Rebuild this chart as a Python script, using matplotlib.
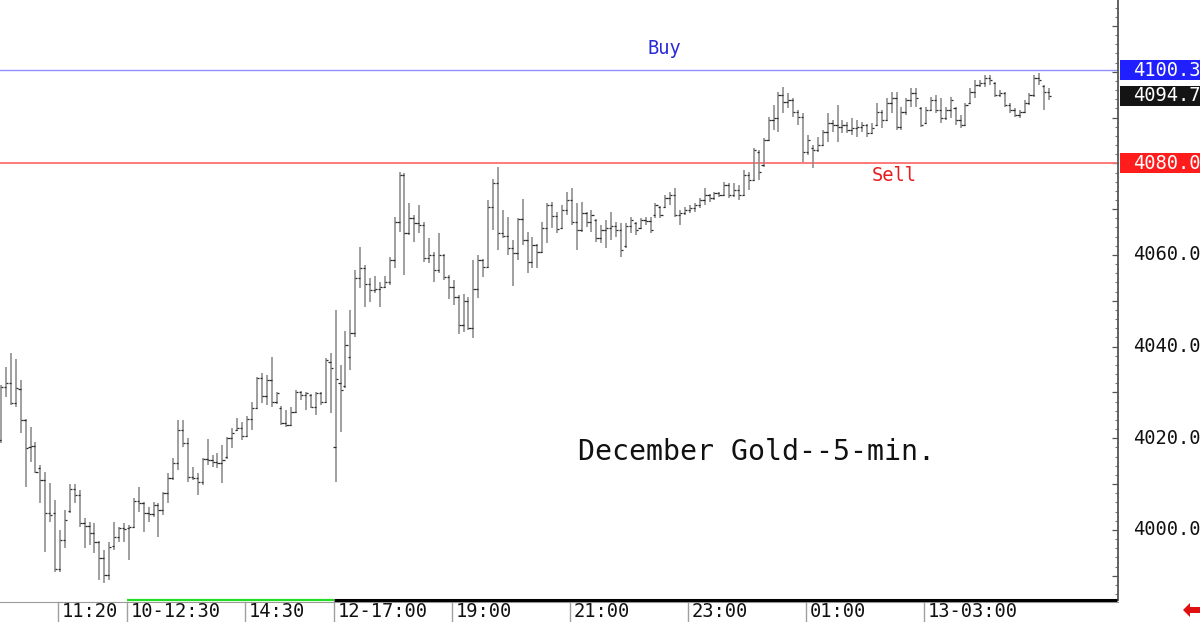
import matplotlib
matplotlib.use("Agg")
import matplotlib.pyplot as plt
from matplotlib.collections import LineCollection
from matplotlib.patches import Rectangle, Polygon
from matplotlib.ticker import MultipleLocator, NullFormatter

# ---------------- data (December Gold, 5-min bars) ----------------
opens = [
    4019.6, 4031.2, 4032.1, 4027.7, 4030.8, 4024.0, 4018.1, 4018.3, 4013.5, 4010.9,
    4003.7, 4003.7, 3991.5, 3997.8, 4004.1, 4008.9, 4007.6, 4001.5, 4000.9, 3999.4,
    3997.4, 3993.9, 3990.2, 3996.5, 3998.5, 4000.4, 4000.4, 4000.7, 4006.3, 4005.9,
    4003.7, 4003.5, 4005.5, 4004.4, 4008.1, 4011.4, 4014.6, 4021.8, 4019.0, 4011.6,
    4011.4, 4010.5, 4015.5, 4015.3, 4014.8, 4014.6, 4016.0, 4020.1, 4021.8, 4022.3,
    4020.5, 4024.2, 4026.6, 4033.2, 4029.2, 4032.7, 4027.9, 4026.5, 4023.4, 4022.9,
    4025.7, 4030.1, 4029.5, 4029.5, 4026.8, 4029.9, 4027.9, 4036.7, 4018.1, 4032.0,
    4031.5, 4037.7, 4043.0, 4055.0, 4057.2, 4053.7, 4052.4, 4052.6, 4053.0, 4054.1,
    4058.9, 4067.2, 4077.5, 4064.8, 4068.1, 4067.0, 4066.6, 4059.4, 4060.0, 4056.7,
    4060.0, 4055.2, 4053.0, 4050.8, 4044.7, 4050.0, 4044.1, 4052.6, 4058.9, 4057.4,
    4070.5, 4075.7, 4064.8, 4064.2, 4061.5, 4060.4, 4067.9, 4063.3, 4058.5, 4062.2,
    4060.6, 4065.9, 4070.9, 4068.5, 4065.9, 4069.8, 4072.0, 4067.2, 4065.5, 4069.2,
    4067.2, 4067.6, 4063.7, 4065.5, 4065.9, 4066.3, 4065.5, 4062.0, 4066.3, 4067.0,
    4065.9, 4067.6, 4067.4, 4068.7, 4070.5, 4070.5, 4072.4, 4073.1, 4068.7, 4069.2,
    4069.8, 4070.3, 4070.9, 4072.0, 4073.1, 4072.4, 4073.5, 4073.1, 4075.3, 4073.1,
    4074.2, 4073.1, 4077.5, 4076.4, 4082.5, 4079.6, 4085.1, 4089.5, 4089.9, 4094.9,
    4093.4, 4093.8, 4091.2, 4090.1, 4082.5, 4083.4, 4082.9, 4084.0, 4086.8, 4088.8,
    4088.4, 4087.9, 4088.4, 4087.3, 4087.7, 4087.9, 4088.4, 4086.6, 4088.4, 4091.2,
    4089.5, 4093.2, 4094.3, 4087.9, 4091.2, 4093.8, 4095.3, 4092.1, 4088.8, 4091.6,
    4093.8, 4091.6, 4089.9, 4091.6, 4092.1, 4089.5, 4088.4, 4093.2, 4095.6, 4097.1,
    4097.5, 4098.6, 4097.5, 4094.9, 4095.3, 4092.7, 4091.6, 4090.6, 4091.2, 4093.2,
    4094.9, 4098.6, 4096.9, 4095.6,
]
highs = [
    4031.6, 4035.6, 4038.6, 4037.3, 4032.7, 4024.2, 4022.5, 4019.2, 4014.2, 4012.7,
    4010.3, 4006.5, 4000.0, 4004.4, 4010.0, 4010.0, 4008.7, 4002.6, 4001.7, 4001.5,
    3997.6, 3995.6, 3997.4, 4001.7, 4000.7, 4001.5, 4001.1, 4007.0, 4009.4, 4006.1,
    4005.0, 4006.1, 4005.9, 4008.3, 4012.4, 4015.7, 4024.0, 4024.0, 4020.1, 4013.8,
    4012.4, 4015.7, 4019.9, 4016.4, 4016.8, 4018.6, 4020.3, 4022.3, 4024.4, 4023.6,
    4024.9, 4027.9, 4033.4, 4034.3, 4033.8, 4037.7, 4030.1, 4027.0, 4026.2, 4026.8,
    4030.5, 4030.3, 4030.1, 4029.7, 4030.1, 4030.1, 4037.5, 4038.6, 4048.0, 4036.0,
    4043.4, 4048.0, 4056.7, 4061.8, 4057.8, 4055.0, 4055.4, 4054.1, 4055.4, 4059.6,
    4068.3, 4078.1, 4077.9, 4071.4, 4068.7, 4070.9, 4067.2, 4063.7, 4060.7, 4064.8,
    4060.2, 4055.6, 4054.6, 4051.3, 4051.5, 4050.8, 4058.9, 4060.0, 4059.1, 4072.0,
    4076.6, 4079.2, 4069.8, 4068.3, 4063.3, 4068.1, 4072.2, 4065.0, 4064.0, 4062.4,
    4067.2, 4071.4, 4071.6, 4069.4, 4070.9, 4073.8, 4074.6, 4071.4, 4071.6, 4069.4,
    4069.8, 4067.8, 4066.6, 4067.6, 4069.4, 4067.2, 4067.0, 4067.0, 4068.3, 4067.2,
    4068.1, 4068.3, 4068.3, 4071.4, 4070.7, 4073.1, 4073.8, 4074.6, 4069.8, 4070.5,
    4070.9, 4071.4, 4072.4, 4074.6, 4073.3, 4073.8, 4073.8, 4075.9, 4075.7, 4075.7,
    4075.3, 4078.6, 4078.1, 4083.4, 4082.9, 4085.5, 4090.1, 4092.7, 4095.6, 4096.7,
    4095.3, 4094.3, 4091.6, 4091.0, 4086.2, 4084.0, 4085.7, 4087.3, 4091.0, 4089.5,
    4092.7, 4089.5, 4089.0, 4089.9, 4089.5, 4089.0, 4088.6, 4088.8, 4093.2, 4091.6,
    4094.3, 4095.6, 4095.6, 4092.3, 4094.3, 4096.4, 4096.4, 4092.3, 4092.3, 4094.5,
    4094.9, 4094.3, 4092.3, 4094.5, 4092.3, 4090.6, 4093.2, 4096.4, 4098.2, 4098.2,
    4099.3, 4099.3, 4097.7, 4096.0, 4095.5, 4093.2, 4092.1, 4091.6, 4093.8, 4095.3,
    4099.3, 4099.7, 4097.1, 4096.4,
]
lows = [
    4019.0, 4029.0, 4027.3, 4026.8, 4021.2, 4009.4, 4014.8, 4012.4, 4005.9, 3995.2,
    4001.7, 3990.8, 3990.8, 3996.1, 4003.7, 4005.9, 4000.7, 3996.1, 3996.7, 3995.0,
    3989.1, 3988.4, 3989.1, 3995.6, 3997.4, 3997.4, 3993.5, 4000.4, 4003.9, 3999.6,
    4001.7, 4002.8, 3998.5, 4003.3, 4005.9, 4010.9, 4013.1, 4018.1, 4010.5, 4010.9,
    4007.6, 4009.8, 4014.2, 4013.8, 4013.5, 4010.3, 4015.5, 4017.9, 4021.6, 4019.6,
    4020.3, 4021.8, 4026.4, 4027.7, 4027.3, 4026.8, 4027.5, 4022.9, 4022.5, 4022.7,
    4025.5, 4028.4, 4026.2, 4026.6, 4025.1, 4027.3, 4027.7, 4025.5, 4010.5, 4021.4,
    4031.0, 4034.9, 4042.1, 4052.8, 4048.7, 4049.8, 4051.7, 4048.7, 4052.8, 4053.5,
    4057.2, 4065.0, 4055.6, 4064.4, 4062.8, 4064.8, 4058.5, 4058.3, 4054.1, 4056.1,
    4054.6, 4050.4, 4049.1, 4042.8, 4043.2, 4043.6, 4041.9, 4050.6, 4055.2, 4057.2,
    4065.5, 4061.1, 4063.7, 4060.0, 4053.2, 4058.9, 4062.2, 4056.1, 4057.2, 4057.2,
    4060.4, 4062.6, 4065.9, 4064.8, 4065.7, 4068.7, 4066.6, 4061.1, 4065.0, 4066.1,
    4065.0, 4062.8, 4062.6, 4061.5, 4063.3, 4064.0, 4059.6, 4061.5, 4064.8, 4064.4,
    4065.7, 4066.6, 4064.8, 4068.1, 4068.1, 4070.3, 4070.9, 4068.3, 4066.6, 4068.7,
    4069.2, 4069.4, 4070.3, 4070.9, 4071.6, 4072.0, 4072.6, 4072.9, 4072.4, 4072.6,
    4072.0, 4072.9, 4074.2, 4076.2, 4076.4, 4079.2, 4084.9, 4087.3, 4086.8, 4091.0,
    4092.1, 4090.1, 4088.4, 4080.3, 4081.8, 4079.0, 4082.5, 4083.8, 4084.7, 4086.8,
    4084.7, 4086.6, 4086.6, 4086.2, 4085.7, 4086.8, 4085.7, 4086.4, 4088.2, 4087.7,
    4089.3, 4091.0, 4087.3, 4087.3, 4090.6, 4092.3, 4092.3, 4087.9, 4088.6, 4091.4,
    4091.0, 4088.8, 4089.5, 4089.9, 4088.4, 4087.7, 4088.2, 4093.0, 4094.3, 4096.7,
    4096.7, 4097.1, 4094.5, 4094.5, 4092.3, 4091.0, 4090.1, 4089.9, 4091.0, 4092.7,
    4094.5, 4097.1, 4091.6, 4093.8,
]
closes = [
    4031.2, 4032.1, 4027.7, 4031.0, 4024.0, 4017.9, 4018.3, 4012.6, 4010.9, 4003.7,
    4003.3, 3991.5, 3997.8, 4002.2, 4008.9, 4007.6, 4001.5, 4000.9, 3999.4, 3997.4,
    3993.9, 3990.2, 3996.3, 3998.5, 4000.4, 4000.2, 4000.7, 4006.3, 4005.9, 4003.7,
    4003.5, 4005.5, 4004.4, 4008.1, 4011.4, 4014.6, 4021.8, 4019.0, 4011.6, 4011.4,
    4010.5, 4015.5, 4015.3, 4014.8, 4014.6, 4015.3, 4020.1, 4021.2, 4022.3, 4020.5,
    4024.2, 4026.6, 4033.2, 4029.2, 4032.7, 4027.9, 4029.9, 4023.4, 4022.9, 4025.7,
    4030.1, 4029.5, 4029.9, 4026.8, 4029.9, 4027.9, 4037.1, 4035.4, 4033.0, 4030.5,
    4040.4, 4043.0, 4055.0, 4057.2, 4053.7, 4052.4, 4052.6, 4053.0, 4054.1, 4058.9,
    4067.2, 4077.5, 4064.8, 4068.1, 4067.0, 4066.6, 4059.4, 4060.0, 4056.7, 4060.0,
    4055.2, 4053.0, 4050.8, 4044.7, 4050.0, 4044.1, 4052.6, 4058.9, 4057.4, 4070.5,
    4075.7, 4064.8, 4064.2, 4061.5, 4060.4, 4067.9, 4063.3, 4058.5, 4062.2, 4060.6,
    4065.9, 4070.9, 4068.5, 4065.7, 4069.8, 4072.0, 4067.2, 4065.5, 4069.2, 4067.2,
    4068.7, 4063.7, 4065.5, 4065.9, 4066.3, 4065.5, 4061.1, 4066.3, 4067.6, 4065.5,
    4067.6, 4067.4, 4065.5, 4070.9, 4068.7, 4072.4, 4073.1, 4068.7, 4069.2, 4069.8,
    4070.3, 4070.9, 4072.0, 4073.1, 4072.4, 4073.5, 4073.1, 4075.3, 4073.1, 4074.2,
    4073.1, 4077.5, 4076.4, 4082.9, 4078.1, 4085.1, 4089.5, 4089.9, 4094.9, 4093.4,
    4093.8, 4091.2, 4090.1, 4082.5, 4085.1, 4082.9, 4084.0, 4086.8, 4088.8, 4088.4,
    4087.9, 4088.4, 4087.3, 4087.7, 4087.9, 4088.4, 4086.6, 4087.7, 4091.2, 4089.5,
    4093.2, 4094.3, 4087.9, 4091.2, 4093.8, 4095.3, 4094.3, 4088.4, 4091.6, 4093.8,
    4091.6, 4089.9, 4091.6, 4093.8, 4089.5, 4088.4, 4092.7, 4095.6, 4097.1, 4097.5,
    4098.6, 4098.2, 4094.9, 4095.3, 4092.7, 4091.6, 4090.6, 4091.2, 4093.2, 4094.9,
    4098.6, 4098.2, 4095.6, 4094.7,
]

tick_bars = [12, 26, 50, 68, 92, 116, 140, 164, 188]
tick_labels = ["11:20", "10-12:30", "14:30", "12-17:00", "19:00",
               "21:00", "23:00", "01:00", "13-03:00"]
price_labels = [4000.0, 4020.0, 4040.0, 4060.0]
buy_level = 4100.3
sell_level = 4080.0
last_price = 4094.7
title_text = "December Gold--5-min."

# ---------------- figure ----------------
W, H = 1200, 622
fig = plt.figure(figsize=(W / 100, H / 100), dpi=100)
fig.patch.set_facecolor("white")
ax = fig.add_axes([0, 22 / H, 1118 / W, 600 / H])
ax.set_facecolor("white")
ax.set_xlim(-0.2, 227.0)
ax.set_ylim(3984.7, 4115.65)

MONO = "DejaVu Sans Mono"
n = min(len(opens), len(highs), len(lows), len(closes))
xs = list(range(n))


def fx(px):
    return px / W


def fy(py):
    return (H - py) / H


# faint dotted time gridlines (dots every 10 points)
tick_x = [b - 0.35 for b in tick_bars]
gx, gy = [], []
for tx in tick_x:
    for lvl in range(3990, 4111, 10):
        gx.append(tx)
        gy.append(lvl)
ax.scatter(gx, gy, s=0.5, color="#c4c4c4", marker="s", linewidths=0, zorder=1)

# bars
ax.vlines(xs, lows[:n], highs[:n], color="#8a8a8a", linewidth=1.15, zorder=3)
segs = []
for i in xs:
    segs.append([(i - 0.45, opens[i]), (i, opens[i])])
    segs.append([(i, closes[i]), (i + 0.45, closes[i])])
ax.add_collection(LineCollection(segs, colors="#2a2a2a", linewidths=0.9, zorder=4))

# buy / sell levels
ax.axhline(buy_level, color="#8f8fff", linewidth=1.0, zorder=2)
ax.axhline(sell_level, color="#ff7070", linewidth=1.3, zorder=2)
fig.text(fx(664), fy(48), "Buy", fontsize=13.5, family=MONO,
         color="#2a2ad8", ha="center", va="center")
fig.text(fx(894), fy(176), "Sell", fontsize=13.5, family=MONO,
         color="#e81c1c", ha="center", va="center")

# title text
fig.text(fx(756), fy(452), title_text, fontsize=20.3, family=MONO,
         color="#111111", ha="center", va="center")

# spines / right axis
for s in ["top", "left", "bottom"]:
    ax.spines[s].set_visible(False)
ax.spines["right"].set_color("#555555")
ax.spines["right"].set_linewidth(1.3)
ax.yaxis.tick_right()
ax.yaxis.set_major_locator(MultipleLocator(10))
ax.yaxis.set_minor_locator(MultipleLocator(2))
ax.yaxis.set_major_formatter(NullFormatter())
ax.tick_params(axis="y", which="major", direction="in", length=4, width=0.9,
               color="#555555", right=True, left=False)
ax.tick_params(axis="y", which="minor", direction="in", length=2.5, width=0.8,
               color="#777777", right=True, left=False)
ax.set_xticks([])

ytrans = ax.get_yaxis_transform()
for p in price_labels:
    ax.text(1133 / 1118, p, f"{p:.1f}", transform=ytrans, fontsize=13.5,
            family=MONO, color="#111111", ha="left", va="center", clip_on=False)


# coloured price boxes
def price_box(level, face):
    ypix = (4115.65 - level) * 600 / 130.95
    top = ypix - 10
    fig.patches.append(Rectangle((fx(1120), fy(top + 20)), 80 / W, 20 / H,
                                 transform=fig.transFigure, facecolor=face,
                                 edgecolor="none", zorder=5))
    fig.text(fx(1133), fy(ypix), f"{level:.1f}", fontsize=13.5,
             family=MONO, color="white", ha="left", va="center", zorder=6)


price_box(buy_level, "#1f1fff")
price_box(last_price, "#141414")
price_box(sell_level, "#ff1c1c")

# bottom time axis
xtrans = ax.get_xaxis_transform()
ax.plot([-0.2, 227.0], [-2 / 600, -2 / 600], transform=xtrans, color="#9a9a9a",
        linewidth=0.8, clip_on=False, zorder=5)
ax.plot([tick_x[1], tick_x[3]], [0, 0], transform=xtrans, color="#22dd22",
        linewidth=1.6, clip_on=False, solid_capstyle="butt", zorder=6)
ax.plot([tick_x[3], 226.8], [0, 0], transform=xtrans, color="#000000",
        linewidth=2.2, clip_on=False, solid_capstyle="butt", zorder=6)
for tx, lab in zip(tick_x, tick_labels):
    ax.plot([tx, tx], [-2 / 600, -22 / 600], transform=xtrans, color="#a0a0a0",
            linewidth=1.0, clip_on=False)
    ax.text(tx + 0.75, -11.5 / 600, lab, transform=xtrans, fontsize=13.5,
            family=MONO, color="#111111", ha="left", va="center", clip_on=False)

# little red arrow at bottom right
pts = [(1183, 610), (1190, 603), (1190, 607), (1200, 607), (1200, 613),
       (1190, 613), (1190, 617)]
fig.patches.append(Polygon([(fx(px), fy(py)) for px, py in pts],
                           closed=True, transform=fig.transFigure,
                           facecolor="#e01010", edgecolor="none"))

fig.savefig("out.png", dpi=100, facecolor="white")
